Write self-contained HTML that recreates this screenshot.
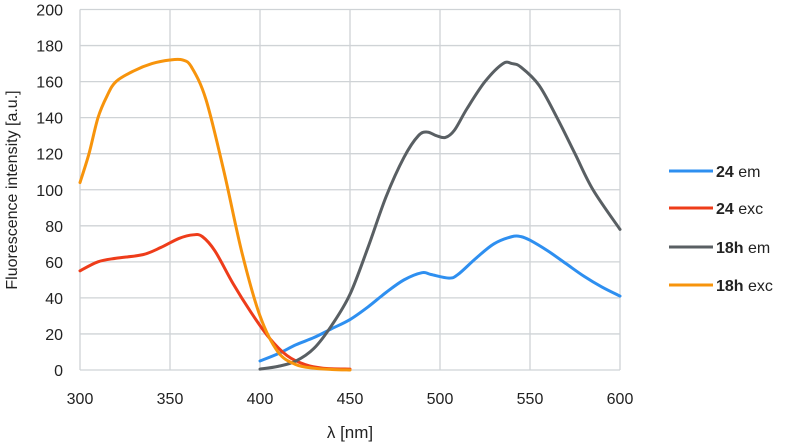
<!DOCTYPE html>
<html><head><meta charset="utf-8">
<style>
html,body{margin:0;padding:0;background:#fff;}
svg{display:block;font-family:"Liberation Sans","DejaVu Sans",sans-serif;}
</style></head>
<body>
<svg id="chart" width="790" height="445" viewBox="0 0 790 445">
<g id="grid"></g>
<g id="yticks"></g>
<g id="xticks"></g>
<g id="series"></g>
<text x="17" y="190" transform="rotate(-90 17 190)" text-anchor="middle" font-size="16" fill="#222">Fluorescence intensity [a.u.]</text>
<text x="350" y="438" text-anchor="middle" font-size="17" fill="#222">λ [nm]</text>
<g id="legend"></g>
</svg>
<script>
const xTicks=[300,350,400,450,500,550,600];
const yTicks=[0,20,40,60,80,100,120,140,160,180,200];
const em24X=[400,410,420,430,440,450,460,470,480,490,495,505,510,520,530,540,545,550,560,570,580,590,600];
const em24Y=[5,9,14,18,23,28,35,43,50,54,53,51,53,62,70,74,74,72,66,59,52,46,41];
const exc24X=[300,310,320,335,345,355,363,368,375,385,395,405,415,425,435,450];
const exc24Y=[55,60,62,64,68,73,75,74,66,48,32,18,8,3,1,0.5];
const em18X=[400,410,420,430,440,450,460,470,480,488,493,498,503,508,515,525,535,540,545,555,565,575,585,600];
const em18Y=[0.5,2,5,12,25,42,68,96,118,130,132,130,129,133,145,160,170,170,168,158,140,120,100,78];
const exc18X=[300,305,310,315,320,330,340,350,357,362,370,380,390,400,410,420,430,440,450];
const exc18Y=[104,120,140,152,160,166,170,172,172,168,150,110,65,30,10,3,1,0.3,0];
const legendNames=["24","24","18h","18h"];
const legendSuffix=["em","exc","em","exc"];
const colors=["#2e8ff0","#ee3c1a","#595f63","#f7940c"];
const NS="http://www.w3.org/2000/svg";
const X0=80,X1=620,Y0=370,Y1=9.5;
const sx=v=>X0+(v-300)/300*(X1-X0);
const sy=v=>Y0-v/200*(Y0-Y1);
function mk(t,a,p){const e=document.createElementNS(NS,t);for(const k in a)e.setAttribute(k,a[k]);p.appendChild(e);return e;}
const grid=document.getElementById('grid');
yTicks.forEach(t=>{
  const l=mk('line',{x1:X0,x2:X1,y1:sy(t),y2:sy(t),stroke:'#cfd3d6','stroke-width':1.3},grid);
  
  
  const tx=mk('text',{x:63,y:sy(t)+6,'text-anchor':'end','font-size':16,fill:'#222'},document.getElementById('yticks'));
  tx.textContent=t;
  
  
});
xTicks.forEach(t=>{
  const l=mk('line',{x1:sx(t),x2:sx(t),y1:Y1,y2:Y0,stroke:'#cfd3d6','stroke-width':1.3},grid);
  
  
  const tx=mk('text',{x:sx(t),y:404,'text-anchor':'middle','font-size':16,fill:'#222'},document.getElementById('xticks'));
  tx.textContent=t;
  
  
});
function path(xs,ys){
  const p=xs.map((x,i)=>[sx(x),sy(ys[i])]);
  let d='M'+p[0][0]+','+p[0][1];
  for(let i=0;i<p.length-1;i++){
    const a=p[i-1]||p[i],b=p[i],c=p[i+1],e=p[i+2]||c;
    const c1=[b[0]+(c[0]-a[0])/6,b[1]+(c[1]-a[1])/6],c2=[c[0]-(e[0]-b[0])/6,c[1]-(e[1]-b[1])/6];
    d+=' C'+c1+' '+c2+' '+c;
  }
  return d;
}
const ser=document.getElementById('series');
const sets=[[em24X,em24Y],[exc24X,exc24Y],[em18X,em18Y],[exc18X,exc18Y]];
const snames=['series-24-em','series-24-exc','series-18h-em','series-18h-exc'];
[0,1,2,3].forEach(i=>{
  const pth=mk('path',{d:path(sets[i][0],sets[i][1]),fill:'none',stroke:colors[i],'stroke-width':3,'stroke-linejoin':'round','stroke-linecap':'round'},ser);
  
  
});
const lg=document.getElementById('legend');
const ly=[171,208,247,285];
legendNames.forEach((n,i)=>{
  const l=mk('line',{x1:669,x2:713,y1:ly[i],y2:ly[i],stroke:colors[i],'stroke-width':3},lg);
  
  
  const t=mk('text',{x:716,y:ly[i]+6,'font-size':16,fill:'#222'},lg);
  
  
  const b=mk('tspan',{'font-weight':'bold'},t);b.textContent=n;
  const s=mk('tspan',{},t);s.textContent=' '+legendSuffix[i];
});
</script>
</body></html>
